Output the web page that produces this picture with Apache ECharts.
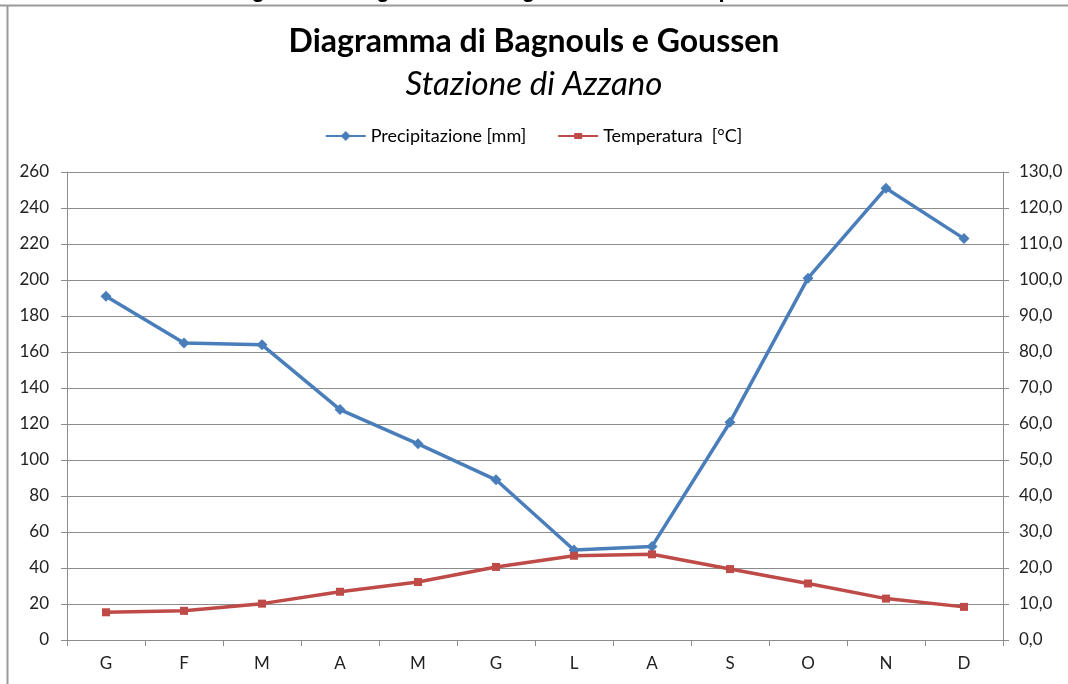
<!DOCTYPE html>
<html>
<head>
<meta charset="utf-8">
<script src="https://cdn.jsdelivr.net/npm/echarts@6/dist/echarts.min.js"></script>
<style>
html,body{margin:0;padding:0;background:#fff;}
#chart{width:1068px;height:684px;}
</style>
</head>
<body>
<div id="chart"></div>
<script>
const months = ['G','F','M','A','M','G','L','A','S','O','N','D'];
const precipitazione = [191, 165, 164, 128, 109, 89, 50, 52, 121, 201, 251, 223];
const temperatura = [7.7, 8.1, 10.1, 13.4, 16.1, 20.3, 23.4, 23.8, 19.7, 15.7, 11.5, 9.2];
const leftTicks = {min: 0, max: 260, interval: 20};
const rightTicks = {min: 0, max: 130, interval: 10};
const titleText = 'Diagramma di Bagnouls e Goussen';
const subtitleText = 'Stazione di Azzano';
const captionText = 'Figura 4 – Diagramma di Bagnouls e Goussen per Azzano';

const chart = echarts.init(document.getElementById('chart'), null, {renderer: 'canvas'});
const FONT = 'Lato, "Open Sans", sans-serif';
const gridColor = '#8c8c8c';
const axisColor = '#8c8c8c';
const BLUE = '#4a7ebb';
const RED = '#be4b48';

chart.setOption({
  animation: false,
  backgroundColor: '#fff',
  title: [
    {text: titleText, left: 'center', top: 21,
     textStyle: {fontFamily: FONT, fontWeight: 'bold', fontSize: 32, color: '#000'}},
    {text: subtitleText, left: 'center', top: 63,
     textStyle: {fontFamily: FONT, fontStyle: 'italic', fontWeight: 'normal', fontSize: 33, color: '#000'}}
  ],
  legend: {
    top: 122, left: 'center', itemGap: 32, itemWidth: 40, itemHeight: 10,
    textStyle: {fontFamily: FONT, fontSize: 18, color: '#000'},
    data: [
      {name: 'Precipitazione [mm]', icon: 'path://M0,4 L16,4 L20,0 L24,4 L40,4 L40,6 L24,6 L20,10 L16,6 L0,6 Z'},
      {name: 'Temperatura  [°C]', icon: 'path://M0,4 L16,4 L16,2 L24,2 L24,4 L40,4 L40,6 L24,6 L24,8 L16,8 L16,6 L0,6 Z'}
    ]
  },
  grid: {left: 67, right: 65, top: 172, bottom: 44, containLabel: false},
  xAxis: {
    type: 'category', data: months, boundaryGap: true,
    axisLine: {lineStyle: {color: axisColor, width: 1}},
    axisTick: {show: true, length: 6, inside: false, alignWithLabel: false, lineStyle: {color: axisColor}},
    axisLabel: {fontFamily: FONT, fontSize: 17, color: '#222', margin: 15}
  },
  yAxis: [
    {
      type: 'value', min: leftTicks.min, max: leftTicks.max, interval: leftTicks.interval,
      position: 'left',
      axisLine: {show: true, lineStyle: {color: axisColor}},
      axisTick: {show: true, length: 6, lineStyle: {color: axisColor}},
      axisLabel: {fontFamily: FONT, fontSize: 17, color: '#222', margin: 18},
      splitLine: {show: true, lineStyle: {color: gridColor, width: 1}}
    },
    {
      type: 'value', min: rightTicks.min, max: rightTicks.max, interval: rightTicks.interval,
      position: 'right',
      axisLine: {show: true, lineStyle: {color: axisColor}},
      axisTick: {show: true, length: 6, lineStyle: {color: axisColor}},
      axisLabel: {fontFamily: FONT, fontSize: 17, color: '#222', margin: 16,
        formatter: v => v.toFixed(1).replace('.', ',')},
      splitLine: {show: false}
    }
  ],
  series: [
    {
      name: 'Precipitazione [mm]', type: 'line', yAxisIndex: 0, data: precipitazione,
      symbol: 'diamond', symbolSize: 11, showAllSymbol: true,
      lineStyle: {color: BLUE, width: 3.5}, itemStyle: {color: BLUE}
    },
    {
      name: 'Temperatura  [°C]', type: 'line', yAxisIndex: 1, data: temperatura,
      symbol: 'rect', symbolSize: 8, showAllSymbol: true,
      lineStyle: {color: RED, width: 3.5}, itemStyle: {color: RED}
    }
  ],
  graphic: [
    {type: 'text', left: 'center', top: -20,
     style: {text: captionText, font: 'bold 22px "Liberation Sans", sans-serif', fill: '#000'}, silent: true},
    {type: 'rect', shape: {x: 0, y: 5, width: 1068, height: 10}, style: {fill: '#fff'}, silent: true},
    {type: 'line', shape: {x1: 0, y1: 5.5, x2: 1068, y2: 5.5}, style: {stroke: '#9a9a9a', lineWidth: 2}, silent: true},
    {type: 'line', shape: {x1: 7.5, y1: 5, x2: 7.5, y2: 684}, style: {stroke: '#9a9a9a', lineWidth: 2}, silent: true}
  ]
});
</script>
</body>
</html>
